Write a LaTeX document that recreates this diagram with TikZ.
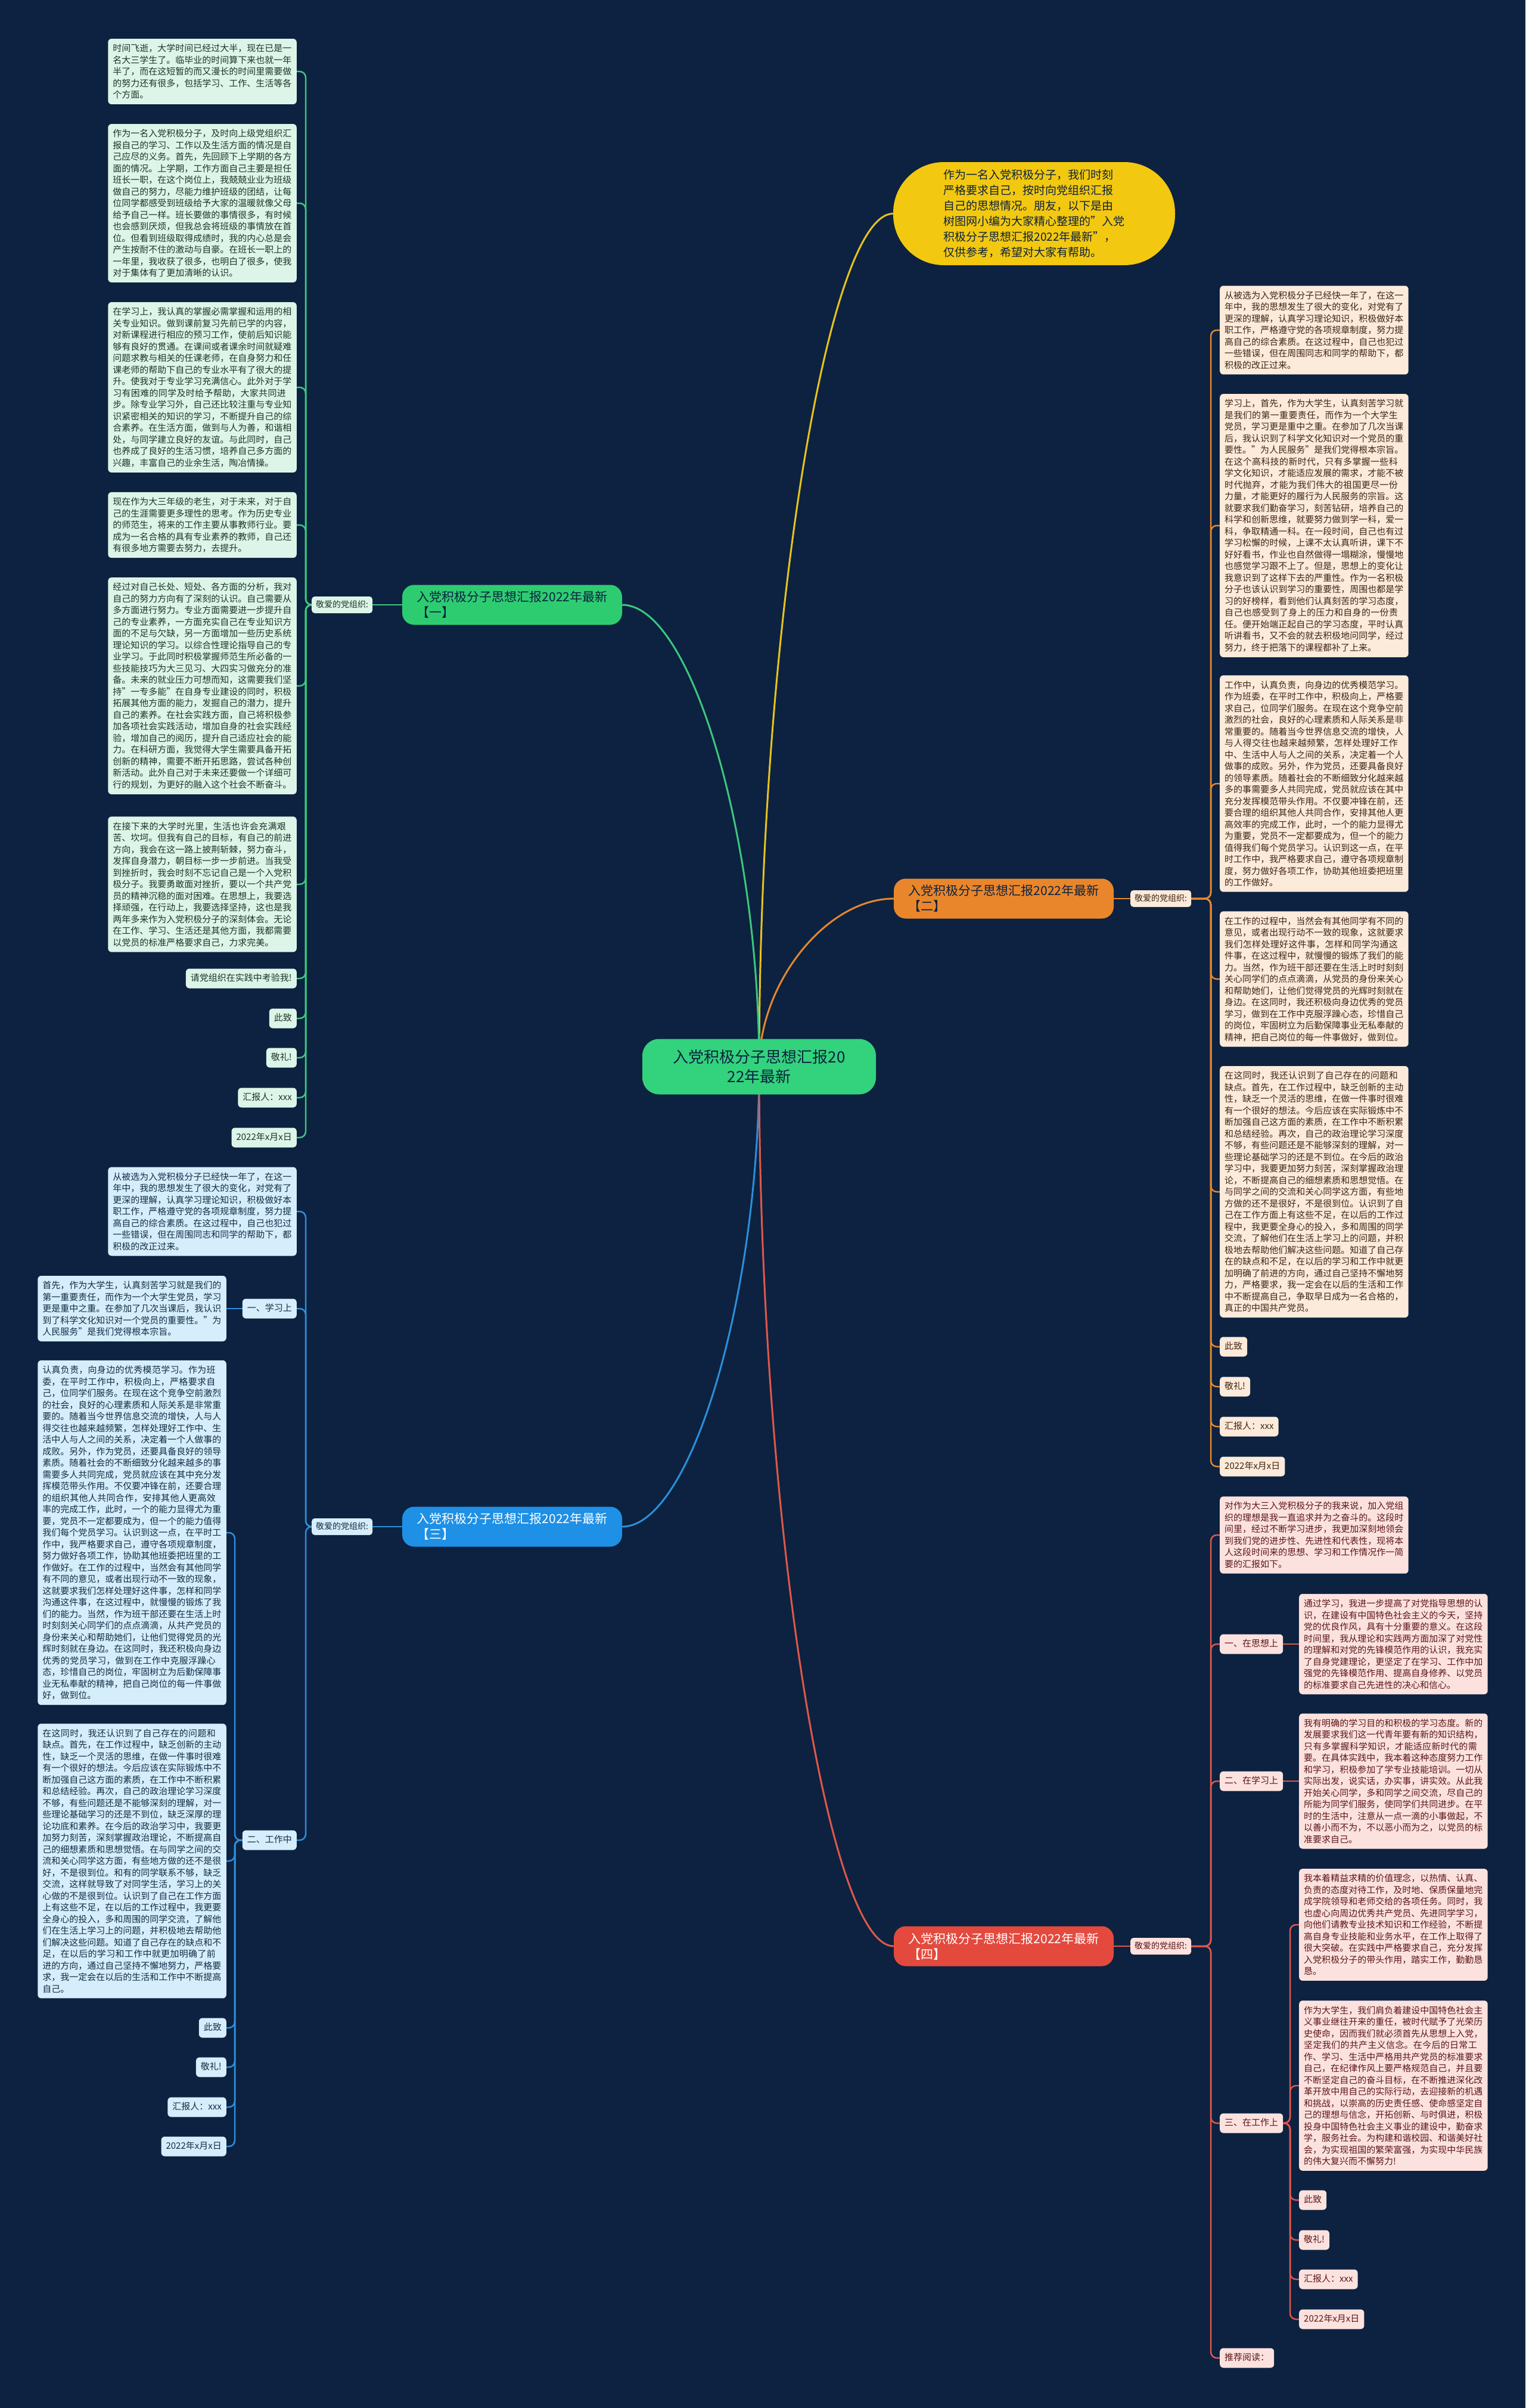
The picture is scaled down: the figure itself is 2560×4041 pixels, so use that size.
\documentclass[tikz,border=0pt]{standalone}
\usepackage{fontspec}
\setmainfont{Noto Sans CJK SC}
\XeTeXlinebreaklocale "zh"
\XeTeXlinebreakskip=0pt plus 1pt
\usetikzlibrary{backgrounds}
\definecolor{bgc}{HTML}{0C2240}
\definecolor{cG}{HTML}{3CC77D}
\definecolor{fG}{HTML}{DDF5E8}
\definecolor{tG}{HTML}{1A3526}
\definecolor{nG}{HTML}{2ECC71}
\definecolor{cO}{HTML}{E5872D}
\definecolor{fO}{HTML}{FCEADB}
\definecolor{tO}{HTML}{3F2511}
\definecolor{nO}{HTML}{E9862B}
\definecolor{cB}{HTML}{2B8FDB}
\definecolor{fB}{HTML}{D6EEFB}
\definecolor{tB}{HTML}{112C45}
\definecolor{nB}{HTML}{1E90E6}
\definecolor{cR}{HTML}{E0574A}
\definecolor{fR}{HTML}{FCE2DF}
\definecolor{tR}{HTML}{5A1616}
\definecolor{nR}{HTML}{E4493D}
\definecolor{cY}{HTML}{E8C21E}
\definecolor{nY}{HTML}{F2C811}
\definecolor{nC}{HTML}{33D27C}
\definecolor{tD}{HTML}{0C2240}
\begin{document}
\begin{tikzpicture}[x=1pt,y=-1pt,
  box/.style={rounded corners=6pt, inner xsep=8pt, inner ysep=9pt, font=\fontsize{15}{19.5}\selectfont},
  tag/.style={box, text height=12pt, text depth=3pt},
  para/.style={box, text width=300.5pt, align=left},
  lab/.style={rounded corners=5pt, inner xsep=7pt, inner ysep=7pt, text height=11pt, text depth=3pt, font=\fontsize{14}{17}\selectfont},
  G/.style={fill=fG, text=tG}, O/.style={fill=fO, text=tO},
  B/.style={fill=fB, text=tB}, R/.style={fill=fR, text=tR},
  branch/.style={rounded corners=20pt, minimum width=369pt, minimum height=67pt, align=left, font=\fontsize{21}{26}\selectfont},
  link/.style={line width=2.5pt, rounded corners=10pt},
  mainline/.style={line width=3pt}]
\useasboundingbox (0,0) rectangle (2560,4041);

% center and intro
\node[fill=nC, text=tD, rounded corners=28pt, minimum width=392pt, minimum height=93pt, align=center, font=\fontsize{26}{33}\selectfont] (c) at (1274,1790) {入党积极分子思想汇报20\\22年最新};
\node[fill=nY, text=tD, rounded corners=85pt, minimum width=473pt, minimum height=173pt, align=left, font=\fontsize{19}{26}\selectfont] (intro) at (1735.5,358.5) {作为一名入党积极分子，我们时刻\\严格要求自己，按时向党组织汇报\\自己的思想情况。朋友，以下是由\\树图网小编为大家精心整理的"入党\\积极分子思想汇报2022年最新"，\\仅供参考，希望对大家有帮助。};

% branch 1
\node[branch, fill=nG, text=tD] (b1) at (859.5,1015) {入党积极分子思想汇报2022年最新\\【一】};
\node[lab, G, anchor=west] (lab1) at (523,1015) {敬爱的党组织:};
\coordinate (busG) at (513,1015);
\node[para, G, anchor=east] (g1) at (498,120) {时间飞逝，大学时间已经过大半，现在已是一名大三学生了。临毕业的时间算下来也就一年半了，而在这短暂的而又漫长的时间里需要做的努力还有很多，包括学习、工作、生活等各个方面。};
\node[para, G, anchor=east] (g2) at (498,341) {作为一名入党积极分子，及时向上级党组织汇报自己的学习、工作以及生活方面的情况是自己应尽的义务。首先，先回顾下上学期的各方面的情况。上学期，工作方面自己主要是担任班长一职，在这个岗位上，我兢兢业业为班级做自己的努力，尽能力维护班级的团结，让每位同学都感受到班级给予大家的温暖就像父母给予自己一样。班长要做的事情很多，有时候也会感到厌烦，但我总会将班级的事情放在首位。但看到班级取得成绩时，我的内心总是会产生按耐不住的激动与自豪。在班长一职上的一年里，我收获了很多，也明白了很多，使我对于集体有了更加清晰的认识。};
\node[para, G, anchor=east] (g3) at (498,650) {在学习上，我认真的掌握必需掌握和运用的相关专业知识。做到课前复习先前已学的内容，对新课程进行相应的预习工作，使前后知识能够有良好的贯通。在课间或者课余时间就疑难问题求教与相关的任课老师，在自身努力和任课老师的帮助下自己的专业水平有了很大的提升。使我对于专业学习充满信心。此外对于学习有困难的同学及时给予帮助，大家共同进步。除专业学习外，自己还比较注重与专业知识紧密相关的知识的学习，不断提升自己的综合素养。在生活方面，做到与人为善，和谐相处，与同学建立良好的友谊。与此同时，自己也养成了良好的生活习惯，培养自己多方面的兴趣，丰富自己的业余生活，陶冶情操。};
\node[para, G, anchor=east] (g4) at (498,881) {现在作为大三年级的老生，对于未来，对于自己的生涯需要更多理性的思考。作为历史专业的师范生，将来的工作主要从事教师行业。要成为一名合格的具有专业素养的教师，自己还有很多地方需要去努力，去提升。};
\node[para, G, anchor=east] (g5) at (498,1151) {经过对自己长处、短处、各方面的分析，我对自己的努力方向有了深刻的认识。自己需要从多方面进行努力。专业方面需要进一步提升自己的专业素养，一方面充实自己在专业知识方面的不足与欠缺，另一方面增加一些历史系统理论知识的学习。以综合性理论指导自己的专业学习。于此同时积极掌握师范生所必备的一些技能技巧为大三见习、大四实习做充分的准备。未来的就业压力可想而知，这需要我们坚持"一专多能"在自身专业建设的同时，积极拓展其他方面的能力，发掘自己的潜力，提升自己的素养。在社会实践方面，自己将积极参加各项社会实践活动，增加自身的社会实践经验，增加自己的阅历，提升自己适应社会的能力。在科研方面，我觉得大学生需要具备开拓创新的精神，需要不断开拓思路，尝试各种创新活动。此外自己对于未来还要做一个详细可行的规划，为更好的融入这个社会不断奋斗。};
\node[para, G, anchor=east] (g6) at (498,1484) {在接下来的大学时光里，生活也许会充满艰苦、坎坷。但我有自己的目标，有自己的前进方向，我会在这一路上披荆斩棘，努力奋斗，发挥自身潜力，朝目标一步一步前进。当我受到挫折时，我会时刻不忘记自己是一个入党积极分子。我要勇敢面对挫折，要以一个共产党员的精神沉稳的面对困难。在思想上，我要选择顽强，在行动上，我要选择坚持，这也是我两年多来作为入党积极分子的深刻体会。无论在工作、学习、生活还是其他方面，我都需要以党员的标准严格要求自己，力求完美。};
\node[tag, G, anchor=east] (g7) at (498,1642) {请党组织在实践中考验我!};
\node[tag, G, anchor=east] (g8) at (498,1709) {此致};
\node[tag, G, anchor=east] (g9) at (498,1775) {敬礼!};
\node[tag, G, anchor=east] (g10) at (498,1842) {汇报人：xxx};
\node[tag, G, anchor=east] (g11) at (498,1909) {2022年x月x日};

% branch 2
\node[branch, fill=nO, text=tD] (b2) at (1684.5,1508) {入党积极分子思想汇报2022年最新\\【二】};
\node[lab, O, anchor=west] (lab2) at (1897,1508) {敬爱的党组织:};
\coordinate (busO) at (2032,1508);
\node[para, O, anchor=west] (o1) at (2047,554) {从被选为入党积极分子已经快一年了，在这一年中，我的思想发生了很大的变化，对党有了更深的理解，认真学习理论知识，积极做好本职工作，严格遵守党的各项规章制度，努力提高自己的综合素质。在这过程中，自己也犯过一些错误，但在周围同志和同学的帮助下，都积极的改正过来。};
\node[para, O, anchor=west] (o2) at (2047,882) {学习上，首先，作为大学生，认真刻苦学习就是我们的第一重要责任，而作为一个大学生党员，学习更是重中之重。在参加了几次当课后，我认识到了科学文化知识对一个党员的重要性。"为人民服务"是我们党得根本宗旨。在这个高科技的新时代，只有多掌握一些科学文化知识，才能适应发展的需求，才能不被时代抛弃，才能为我们伟大的祖国更尽一份力量，才能更好的履行为人民服务的宗旨。这就要求我们勤奋学习，刻苦钻研，培养自己的科学和创新思维，就要努力做到学一科，爱一科，争取精通一科。在一段时间，自己也有过学习松懈的时候，上课不太认真听讲，课下不好好看书，作业也自然做得一塌糊涂，慢慢地也感觉学习跟不上了。但是，思想上的变化让我意识到了这样下去的严重性。作为一名积极分子也该认识到学习的重要性，周围也都是学习的好榜样，看到他们认真刻苦的学习态度，自己也感受到了身上的压力和自身的一份责任。便开始端正起自己的学习态度，平时认真听讲看书，又不会的就去积极地问同学，经过努力，终于把落下的课程都补了上来。};
\node[para, O, anchor=west] (o3) at (2047,1315) {工作中，认真负责，向身边的优秀模范学习。作为班委，在平时工作中，积极向上，严格要求自己，位同学们服务。在现在这个竞争空前激烈的社会，良好的心理素质和人际关系是非常重要的。随着当今世界信息交流的增快，人与人得交往也越来越频繁，怎样处理好工作中、生活中人与人之间的关系，决定着一个人做事的成败。另外，作为党员，还要具备良好的领导素质。随着社会的不断细致分化越来越多的事需要多人共同完成，党员就应该在其中充分发挥模范带头作用。不仅要冲锋在前，还要合理的组织其他人共同合作，安排其他人更高效率的完成工作，此时，一个的能力显得尤为重要，党员不一定都要成为，但一个的能力值得我们每个党员学习。认识到这一点，在平时工作中，我严格要求自己，遵守各项规章制度，努力做好各项工作，协助其他班委把班里的工作做好。};
\node[para, O, anchor=west] (o4) at (2047,1643) {在工作的过程中，当然会有其他同学有不同的意见，或者出现行动不一致的现象，这就要求我们怎样处理好这件事，怎样和同学沟通这件事，在这过程中，就慢慢的锻炼了我们的能力。当然，作为班干部还要在生活上时时刻刻关心同学们的点点滴滴，从党员的身份来关心和帮助她们，让他们觉得党员的光辉时刻就在身边。在这同时，我还积极向身边优秀的党员学习，做到在工作中克服浮躁心态，珍惜自己的岗位，牢固树立为后勤保障事业无私奉献的精神，把自己岗位的每一件事做好，做到位。};
\node[para, O, anchor=west] (o5) at (2047,2000) {在这同时，我还认识到了自己存在的问题和缺点。首先，在工作过程中，缺乏创新的主动性，缺乏一个灵活的思维，在做一件事时很难有一个很好的想法。今后应该在实际锻炼中不断加强自己这方面的素质，在工作中不断积累和总结经验。再次，自己的政治理论学习深度不够，有些问题还是不能够深刻的理解，对一些理论基础学习的还是不到位。在今后的政治学习中，我要更加努力刻苦，深刻掌握政治理论，不断提高自己的细想素质和思想觉悟。在与同学之间的交流和关心同学这方面，有些地方做的还不是很好，不是很到位。认识到了自己在工作方面上有这些不足，在以后的工作过程中，我更要全身心的投入，多和周围的同学交流，了解他们在生活上学习上的问题，并积极地去帮助他们解决这些问题。知道了自己存在的缺点和不足，在以后的学习和工作中就更加明确了前进的方向，通过自己坚持不懈地努力，严格要求，我一定会在以后的生活和工作中不断提高自己，争取早日成为一名合格的，真正的中国共产党员。};
\node[tag, O, anchor=west] (o6) at (2047,2260) {此致};
\node[tag, O, anchor=west] (o7) at (2047,2327) {敬礼!};
\node[tag, O, anchor=west] (o8) at (2047,2394) {汇报人：xxx};
\node[tag, O, anchor=west] (o9) at (2047,2461) {2022年x月x日};

% branch 3
\node[branch, fill=nB, text=white] (b3) at (859.5,2562) {入党积极分子思想汇报2022年最新\\【三】};
\node[lab, B, anchor=west] (lab3) at (523,2562) {敬爱的党组织:};
\coordinate (busB) at (513,2562);
\node[para, B, anchor=east] (p1) at (498,2033) {从被选为入党积极分子已经快一年了，在这一年中，我的思想发生了很大的变化，对党有了更深的理解，认真学习理论知识，积极做好本职工作，严格遵守党的各项规章制度，努力提高自己的综合素质。在这过程中，自己也犯过一些错误，但在周围同志和同学的帮助下，都积极的改正过来。};
\node[tag, B, anchor=east] (p2) at (498,2196) {一、学习上};
\node[para, B, anchor=east] (p2c) at (380,2196) {首先，作为大学生，认真刻苦学习就是我们的第一重要责任，而作为一个大学生党员，学习更是重中之重。在参加了几次当课后，我认识到了科学文化知识对一个党员的重要性。"为人民服务"是我们党得根本宗旨。};
\node[tag, B, anchor=east] (p3) at (498,3088) {二、工作中};
\coordinate (busBw) at (394,3088);
\node[para, B, anchor=east] (p3a) at (380,2572) {认真负责，向身边的优秀模范学习。作为班委，在平时工作中，积极向上，严格要求自己，位同学们服务。在现在这个竞争空前激烈的社会，良好的心理素质和人际关系是非常重要的。随着当今世界信息交流的增快，人与人得交往也越来越频繁，怎样处理好工作中、生活中人与人之间的关系，决定着一个人做事的成败。另外，作为党员，还要具备良好的领导素质。随着社会的不断细致分化越来越多的事需要多人共同完成，党员就应该在其中充分发挥模范带头作用。不仅要冲锋在前，还要合理的组织其他人共同合作，安排其他人更高效率的完成工作，此时，一个的能力显得尤为重要，党员不一定都要成为，但一个的能力值得我们每个党员学习。认识到这一点，在平时工作中，我严格要求自己，遵守各项规章制度，努力做好各项工作，协助其他班委把班里的工作做好。在工作的过程中，当然会有其他同学有不同的意见，或者出现行动不一致的现象，这就要求我们怎样处理好这件事，怎样和同学沟通这件事，在这过程中，就慢慢的锻炼了我们的能力。当然，作为班干部还要在生活上时时刻刻关心同学们的点点滴滴，从共产党员的身份来关心和帮助她们，让他们觉得党员的光辉时刻就在身边。在这同时，我还积极向身边优秀的党员学习，做到在工作中克服浮躁心态，珍惜自己的岗位，牢固树立为后勤保障事业无私奉献的精神，把自己岗位的每一件事做好，做到位。};
\node[para, B, anchor=east] (p3b) at (380,3123) {在这同时，我还认识到了自己存在的问题和缺点。首先，在工作过程中，缺乏创新的主动性，缺乏一个灵活的思维，在做一件事时很难有一个很好的想法。今后应该在实际锻炼中不断加强自己这方面的素质，在工作中不断积累和总结经验。再次，自己的政治理论学习深度不够，有些问题还是不能够深刻的理解，对一些理论基础学习的还是不到位，缺乏深厚的理论功底和素养。在今后的政治学习中，我要更加努力刻苦，深刻掌握政治理论，不断提高自己的细想素质和思想觉悟。在与同学之间的交流和关心同学这方面，有些地方做的还不是很好，不是很到位。和有的同学联系不够，缺乏交流，这样就导致了对同学生活，学习上的关心做的不是很到位。认识到了自己在工作方面上有这些不足，在以后的工作过程中，我更要全身心的投入，多和周围的同学交流，了解他们在生活上学习上的问题，并积极地去帮助他们解决这些问题。知道了自己存在的缺点和不足，在以后的学习和工作中就更加明确了前进的方向，通过自己坚持不懈地努力，严格要求，我一定会在以后的生活和工作中不断提高自己。};
\node[tag, B, anchor=east] (p3c) at (380,3403) {此致};
\node[tag, B, anchor=east] (p3d) at (380,3469) {敬礼!};
\node[tag, B, anchor=east] (p3e) at (380,3536) {汇报人：xxx};
\node[tag, B, anchor=east] (p3f) at (380,3602) {2022年x月x日};

% branch 4
\node[branch, fill=nR, text=white] (b4) at (1684.5,3266) {入党积极分子思想汇报2022年最新\\【四】};
\node[lab, R, anchor=west] (lab4) at (1897,3266) {敬爱的党组织:};
\coordinate (busR) at (2032,3266);
\node[para, R, anchor=west] (q1) at (2047,2576) {对作为大三入党积极分子的我来说，加入党组织的理想是我一直追求并为之奋斗的。这段时间里，经过不断学习进步，我更加深刻地领会到我们党的进步性、先进性和代表性，现将本人这段时间来的思想、学习和工作情况作一简要的汇报如下。};
\node[tag, R, anchor=west] (q2) at (2047,2759) {一、在思想上};
\node[para, R, anchor=west] (q2c) at (2180,2759) {通过学习，我进一步提高了对党指导思想的认识，在建设有中国特色社会主义的今天，坚持党的优良作风，具有十分重要的意义。在这段时间里，我从理论和实践两方面加深了对党性的理解和对党的先锋模范作用的认识，我充实了自身党建理论，更坚定了在学习、工作中加强党的先锋模范作用、提高自身修养、以党员的标准要求自己先进性的决心和信心。};
\node[tag, R, anchor=west] (q3) at (2047,2989) {二、在学习上};
\node[para, R, anchor=west] (q3c) at (2180,2989) {我有明确的学习目的和积极的学习态度。新的发展要求我们这一代青年要有新的知识结构，只有多掌握科学知识，才能适应新时代的需要。在具体实践中，我本着这种态度努力工作和学习，积极参加了学专业技能培训。一切从实际出发，说实话，办实事，讲实效。从此我开始关心同学，多和同学之间交流，尽自己的所能为同学们服务，使同学们共同进步。在平时的生活中，注意从一点一滴的小事做起，不以善小而不为，不以恶小而为之，以党员的标准要求自己。};
\node[tag, R, anchor=west] (q4) at (2047,3563) {三、在工作上};
\coordinate (busRw) at (2165,3563);
\node[para, R, anchor=west] (q4a) at (2180,3230) {我本着精益求精的价值理念，以热情、认真、负责的态度对待工作，及时地、保质保量地完成学院领导和老师交给的各项任务。同时，我也虚心向周边优秀共产党员、先进同学学习，向他们请教专业技术知识和工作经验，不断提高自身专业技能和业务水平，在工作上取得了很大突破。在实践中严格要求自己，充分发挥入党积极分子的带头作用，踏实工作，勤勤恳恳。};
\node[para, R, anchor=west] (q4b) at (2180,3500) {作为大学生，我们肩负着建设中国特色社会主义事业继往开来的重任，被时代赋予了光荣历史使命，因而我们就必须首先从思想上入党，坚定我们的共产主义信念。在今后的日常工作、学习、生活中严格用共产党员的标准要求自己，在纪律作风上要严格规范自己，并且要不断坚定自己的奋斗目标，在不断推进深化改革开放中用自己的实际行动，去迎接新的机遇和挑战，以崇高的历史责任感、使命感坚定自己的理想与信念，开拓创新、与时俱进，积极投身中国特色社会主义事业的建设中，勤奋求学，服务社会。为构建和谐校园、和谐美好社会，为实现祖国的繁荣富强，为实现中华民族的伟大复兴而不懈努力!};
\node[tag, R, anchor=west] (q4c) at (2180,3692) {此致};
\node[tag, R, anchor=west] (q4d) at (2180,3759) {敬礼!};
\node[tag, R, anchor=west] (q4e) at (2180,3825) {汇报人：xxx};
\node[tag, R, anchor=west] (q4f) at (2180,3892) {2022年x月x日};
\node[tag, R, anchor=west] (q5) at (2047,3957) {推荐阅读：};

\begin{pgfonlayer}{background}
\fill[bgc] (0,0) rectangle (2560,4041);
% main curves
\draw[mainline, cY] (c.center) .. controls (1274,1073) and (1387,358.5) .. (intro.west);
\draw[mainline, cG] (c.center) .. controls (1274,1402) and (1159,1015) .. (b1.east);
\draw[mainline, cO] (c.center) .. controls (1274,1649) and (1387,1508) .. (b2.west);
\draw[mainline, cB] (c.center) .. controls (1274,2176) and (1159,2562) .. (b3.east);
\draw[mainline, cR] (c.center) .. controls (1274,2528) and (1387,3266) .. (b4.west);
% branch 1
\draw[link, cG] (b1.west) -- (lab1.east);
\foreach \n in {g1,g2,g3,g4,g5,g6,g7,g8,g9,g10,g11}
  \draw[link, cG] (lab1.west) -- (busG) |- (\n.east);
% branch 2
\draw[link, cO] (b2.east) -- (lab2.west);
\foreach \n in {o1,o2,o3,o4,o5,o6,o7,o8,o9}
  \draw[link, cO] (lab2.east) -- (busO) |- (\n.west);
% branch 3
\draw[link, cB] (b3.west) -- (lab3.east);
\foreach \n in {p1,p2,p3}
  \draw[link, cB] (lab3.west) -- (busB) |- (\n.east);
\draw[link, cB] (p2.west) -- (p2c.east);
\foreach \n in {p3a,p3b,p3c,p3d,p3e,p3f}
  \draw[link, cB] (p3.west) -- (busBw) |- (\n.east);
% branch 4
\draw[link, cR] (b4.east) -- (lab4.west);
\foreach \n in {q1,q2,q3,q4,q5}
  \draw[link, cR] (lab4.east) -- (busR) |- (\n.west);
\draw[link, cR] (q2.east) -- (q2c.west);
\draw[link, cR] (q3.east) -- (q3c.west);
\foreach \n in {q4a,q4b,q4c,q4d,q4e,q4f}
  \draw[link, cR] (q4.east) -- (busRw) |- (\n.west);
\end{pgfonlayer}
\end{tikzpicture}
\end{document}
